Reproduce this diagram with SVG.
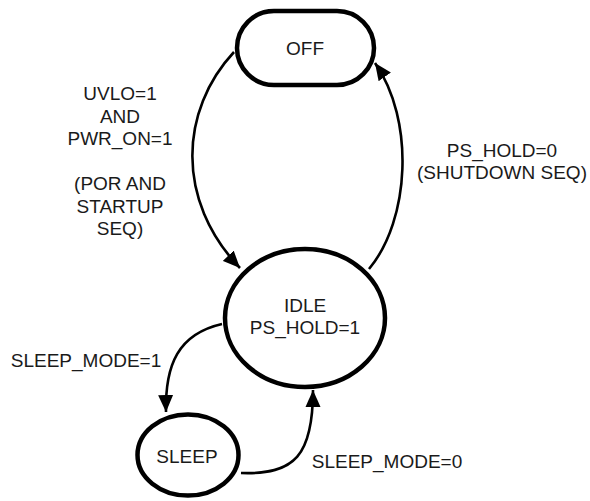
<svg xmlns="http://www.w3.org/2000/svg" width="590" height="501" viewBox="0 0 590 501">
<style>
.node{fill:#fff;stroke:#000;stroke-width:4.5}
.edge{fill:none;stroke:#000;stroke-width:2.6}
text{font-family:"Liberation Sans",Arial,sans-serif;font-size:19px;fill:#1a1a1a;text-anchor:middle}
</style>
<defs>
<marker id="arr" markerUnits="userSpaceOnUse" markerWidth="18" markerHeight="16" refX="17" refY="7.5" orient="auto" viewBox="0 0 18 15">
<path d="M0,0 L17,7.5 L0,15 Z" fill="#000"/>
</marker>
</defs>
<g id="connectors">
<path class="edge" d="M234 52 C180 110,175 200,240 268" marker-end="url(#arr)"/>
<path class="edge" d="M369 269 C410 220,415 120,375 63" marker-end="url(#arr)"/>
<path class="edge" d="M222 324 C178 334,165 365,166 412" marker-end="url(#arr)"/>
<path class="edge" d="M241 473 C295 475,313 455,313 390" marker-end="url(#arr)"/>
<text x="120" y="100">UVLO=1</text>
<text x="120" y="122.5">AND</text>
<text x="120" y="145">PWR_ON=1</text>
<text x="120" y="190">(POR AND</text>
<text x="120" y="212.5">STARTUP</text>
<text x="120" y="235">SEQ)</text>
<text x="502" y="157">PS_HOLD=0</text>
<text x="502" y="179">(SHUTDOWN SEQ)</text>
<text x="86" y="367">SLEEP_MODE=1</text>
<text x="387" y="468">SLEEP_MODE=0</text>
</g>
<g id="off">
<rect class="node" x="237" y="11" width="137" height="74" rx="37" ry="37"/>
<text x="305" y="55">OFF</text>
</g>
<g id="idle">
<ellipse class="node" cx="305" cy="318" rx="80" ry="69"/>
<text x="305" y="312">IDLE</text>
<text x="305" y="334">PS_HOLD=1</text>
</g>
<g id="sleep">
<ellipse class="node" cx="188" cy="455" rx="50.5" ry="40.5"/>
<text x="187" y="463">SLEEP</text>
</g>
</svg>
